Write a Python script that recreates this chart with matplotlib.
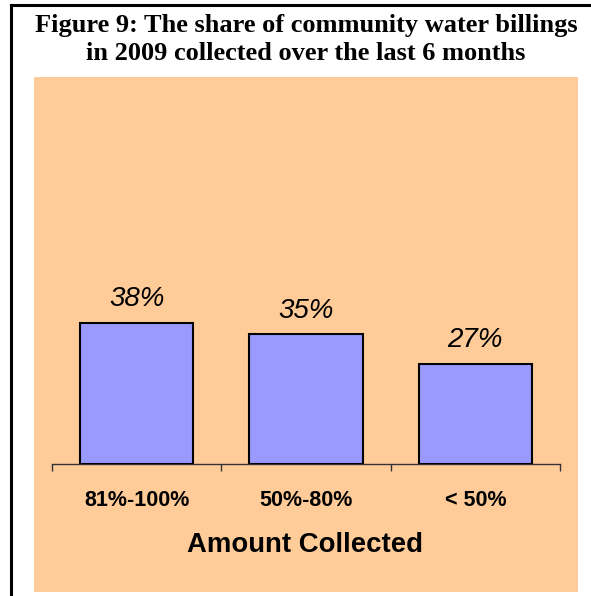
import matplotlib
matplotlib.use("Agg")
import matplotlib.pyplot as plt
from matplotlib.patches import Rectangle
from matplotlib.lines import Line2D

categories = ["81%-100%", "50%-80%", "< 50%"]
shares = [38, 35, 27]
value_labels = ["38%", "35%", "27%"]

title_lines = ["Figure 9: The share of community water billings",
               "in 2009 collected over the last 6 months"]
x_title = "Amount Collected"

W, H = 591, 596
fig = plt.figure(figsize=(W / 100, H / 100), dpi=100)
fig.patch.set_facecolor("white")

def fx(px):
    return px / W

def fy(py):
    return 1 - py / H

# frame lines (top and left)
fig.add_artist(Line2D([fx(11), 1.0], [fy(5), fy(5)], color="black", lw=2.2,
                      transform=fig.transFigure))
fig.add_artist(Line2D([fx(11), fx(11)], [fy(5), 0.0], color="black", lw=2.2,
                      transform=fig.transFigure))

# peach background panel
fig.add_artist(Rectangle((fx(34), fy(592)), fx(578) - fx(34), fy(77) - fy(592),
                         transform=fig.transFigure, facecolor="#FFCC99",
                         edgecolor="none", zorder=0))

for line, base in zip(title_lines, [32, 60]):
    fig.text(fx(306), fy(base), line, ha="center", va="baseline",
             family="Liberation Serif", fontweight="bold", fontsize=19)

ax = fig.add_axes([fx(52), fy(464), fx(560) - fx(52), fy(93) - fy(464)])
ax.set_facecolor("none")

x = list(range(len(categories)))
bars = ax.bar(x, shares, width=0.67, color="#9999FF", edgecolor="black",
              linewidth=1.5, zorder=3)

for xi, v, lab in zip(x, shares, value_labels):
    ax.annotate(lab, (xi, v), xytext=(0, 17), textcoords="offset points",
                ha="center", va="center", fontsize=20, fontstyle="italic",
                family="Liberation Sans")

ax.set_xlim(-0.5, len(categories) - 0.5)
ax.set_ylim(0, 100)

for side in ["top", "right", "left"]:
    ax.spines[side].set_visible(False)
ax.spines["bottom"].set_color("#333333")
ax.spines["bottom"].set_linewidth(1.0)

ax.set_yticks([])
ax.set_xticks(x)
ax.set_xticklabels(categories, family="Liberation Sans", fontweight="bold",
                   fontsize=15.5)
ax.set_xticks([i - 0.5 for i in range(len(categories) + 1)], minor=True)
ax.tick_params(axis="x", which="major", length=0, pad=19)
ax.tick_params(axis="x", which="minor", length=5, width=1.0, color="#333333")

fig.text(fx(305), fy(545), x_title, ha="center", va="center",
         family="Liberation Sans", fontweight="bold", fontsize=19.8)

fig.savefig("out.png", dpi=100)
